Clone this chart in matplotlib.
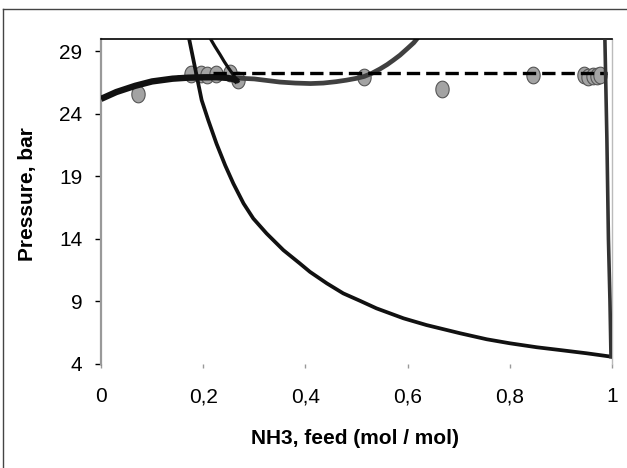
import numpy as np
import matplotlib
matplotlib.use("Agg")
import matplotlib.pyplot as plt
from matplotlib.lines import Line2D

plt.rcParams['font.family'] = ['Liberation Sans', 'DejaVu Sans']

# thick black curve (low NH3 branch)
bub_x = [0, 0.03, 0.067, 0.1, 0.14, 0.17, 0.2, 0.226, 0.248, 0.258, 0.264, 0.268]
bub_y = [25.2, 25.75, 26.25, 26.6, 26.82, 26.9, 26.93, 26.94, 26.88, 26.8, 26.7, 26.55]

# dark grey curve
grey_x = [0.15, 0.2, 0.25, 0.3, 0.35, 0.38, 0.41, 0.435, 0.46, 0.48, 0.5, 0.515, 0.53,
          0.546, 0.56, 0.572, 0.585, 0.6, 0.612, 0.622]
grey_y = [26.9, 26.95, 26.9, 26.8, 26.55, 26.47, 26.43, 26.47, 26.58, 26.7, 26.85, 27.0, 27.25,
          27.6, 27.95, 28.3, 28.7, 29.25, 29.7, 30.2]

# thin black curve falling to x = 1
dew_x = [0.172, 0.181, 0.189, 0.197, 0.21, 0.226, 0.243, 0.259, 0.279, 0.298, 0.324,
         0.357, 0.389, 0.409, 0.442, 0.474, 0.507, 0.539, 0.592, 0.637, 0.703,
         0.755, 0.8, 0.853, 0.898, 0.95, 0.998]
dew_y = [30.1, 28.3, 26.7, 25.1, 23.48, 21.62, 19.88, 18.42, 16.82, 15.62, 14.42,
         13.08, 12.02, 11.34, 10.42, 9.62, 9.02, 8.42, 7.62, 7.08, 6.42,
         5.94, 5.62, 5.3, 5.08, 4.82, 4.55]

# short thin black curve
dew2_x = [0.213, 0.223, 0.233, 0.241, 0.249, 0.256, 0.262, 0.268]
dew2_y = [30.1, 29.4, 28.75, 28.2, 27.7, 27.3, 26.95, 26.6]

# dashed line
dash_x = [0.22, 0.99]
dash_y = [27.25, 27.25]

# near-vertical line at x ~ 1
vert_x = [0.986, 0.99, 0.993, 0.996, 0.998]
vert_y = [30.2, 22, 14, 9, 4.55]

# measured points
exp_x = [0.073, 0.176, 0.195, 0.208, 0.225, 0.252, 0.268, 0.514, 0.668, 0.846,
         0.945, 0.954, 0.963, 0.97, 0.977]
exp_y = [25.6, 27.2, 27.2, 27.15, 27.2, 27.3, 26.7, 26.95, 26.0, 27.15,
         27.15, 26.95, 27.05, 27.05, 27.1]

xticks = [0, 0.2, 0.4, 0.6, 0.8, 1]
xticklabels = ['0', '0,2', '0,4', '0,6', '0,8', '1']
yticks = [4, 9, 14, 19, 24, 29]

fig = plt.figure(figsize=(6.27, 4.68), dpi=100)
ax = fig.add_axes([101/627, 1 - 363.5/468, 511/627, 324.5/468])

# ellipse marker (a bit taller than wide)
t = np.linspace(0, 2*np.pi, 40)
ell = np.column_stack([0.8*np.cos(t), np.sin(t)])

ax.plot(exp_x, exp_y, linestyle='none', marker=ell, ms=12,
        mfc='#a3a3a3', mec='#555555', mew=0.8, zorder=1)
ax.plot(grey_x, grey_y, color='#404040', lw=3.4, zorder=2, solid_capstyle='butt')
ax.plot(bub_x, bub_y, color='#111111', lw=4.6, zorder=3, solid_capstyle='butt')
ax.plot(dew_x, dew_y, color='#111111', lw=2.7, zorder=3, solid_joinstyle='round')
ax.plot(dew2_x, dew2_y, color='#111111', lw=2.3, zorder=3, solid_joinstyle='round')
ax.plot(dash_x, dash_y, color='black', lw=2.4, dashes=(4, 1.8), zorder=3)
ax.plot(vert_x, vert_y, color='#333333', lw=2.6, zorder=3)

ax.set_xlim(0, 1)
ax.set_ylim(4, 30)
ax.set_xticks(xticks)
ax.set_xticklabels(xticklabels)
ax.set_yticks(yticks)

ax.spines['top'].set_color('black')
ax.spines['top'].set_linewidth(1.2)
ax.spines['right'].set_color('#bbbbbb')
ax.spines['right'].set_linewidth(1.0)
ax.spines['left'].set_color('#999999')
ax.spines['left'].set_linewidth(1.6)
ax.spines['bottom'].set_visible(False)

ax.tick_params(axis='y', direction='out', length=4.3, width=1, color='black',
               pad=9, labelsize=15)
ax.tick_params(axis='x', direction='out', length=3, width=1, color='#999999',
               pad=14, labelsize=15)

fig.text(355/627, 1 - 438/468, 'NH3, feed (mol / mol)', ha='center', va='center',
         fontsize=15, fontweight='bold')
fig.text(28/627, 1 - 194/468, 'Pressure, bar', ha='center', va='center',
         rotation=90, fontsize=15, fontweight='bold')

# outer chart frame (left and top edges visible)
fig.add_artist(Line2D([3/627, 3/627], [0, 1 - 9/468], transform=fig.transFigure,
                      color='#444444', lw=1))
fig.add_artist(Line2D([3/627, 1], [1 - 9/468, 1 - 9/468], transform=fig.transFigure,
                      color='#444444', lw=1))

fig.savefig('out.png', dpi=100)
